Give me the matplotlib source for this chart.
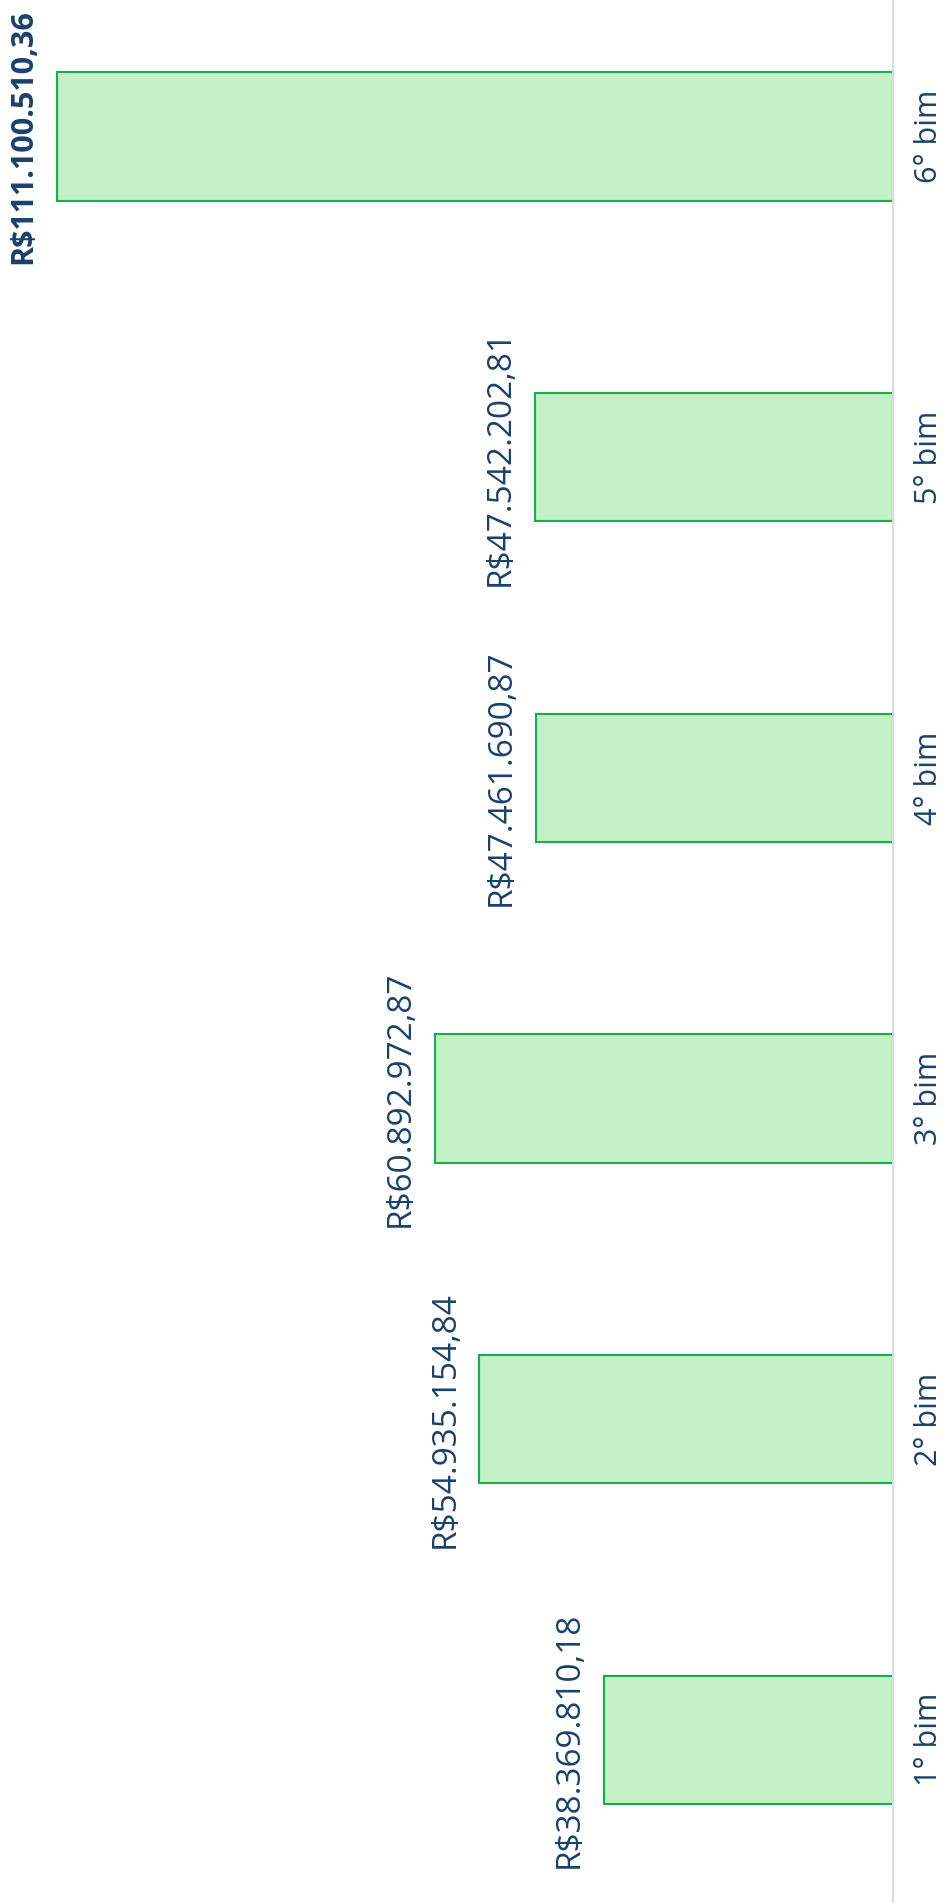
import matplotlib
matplotlib.use("Agg")
import matplotlib.pyplot as plt

categories = ["1° bim", "2° bim", "3° bim", "4° bim", "5° bim", "6° bim"]
values = [38369810.18, 54935154.84, 60892972.87, 47461690.87, 47542202.81, 111100510.36]
highlight = 5  # index of the bold label

text_color = "#1b406b"
fill_color = "#c3f0c6"
edge_color = "#14b04e"

plt.rcParams['font.family'] = ['Open Sans', 'DejaVu Sans']


def brl(v):
    s = f"{v:,.2f}"
    s = s.replace(",", "X").replace(".", ",").replace("X", ".")
    return "R$" + s


fig = plt.figure(figsize=(9.46, 19.03), dpi=100)
ax = fig.add_axes([0, 0, 893 / 946, 1])

pos = list(range(len(categories)))
ax.barh(pos, values, height=0.4, color=fill_color, edgecolor=edge_color, linewidth=1.5)

ax.set_xlim(118.63e6, 0)
ax.set_ylim(-0.509, 5.426)

for i, v in enumerate(values):
    bold = i == highlight
    ax.annotate(brl(v), xy=(v, i), xytext=(-13, 0), textcoords="offset points",
                rotation=90, ha="right", va="center", fontsize=22 if bold else 24,
                color=text_color, fontweight="bold" if bold else "normal")

ax.yaxis.tick_right()
ax.set_yticks(pos)
ax.set_yticklabels(categories, rotation=90, va="center", fontsize=22, color=text_color)
ax.tick_params(axis="y", length=0, pad=15)
ax.set_xticks([])

for side in ["left", "top", "bottom"]:
    ax.spines[side].set_visible(False)
ax.spines["right"].set_color("#dcdcdc")
ax.spines["right"].set_linewidth(1.5)

fig.savefig("out.png", dpi=100)
